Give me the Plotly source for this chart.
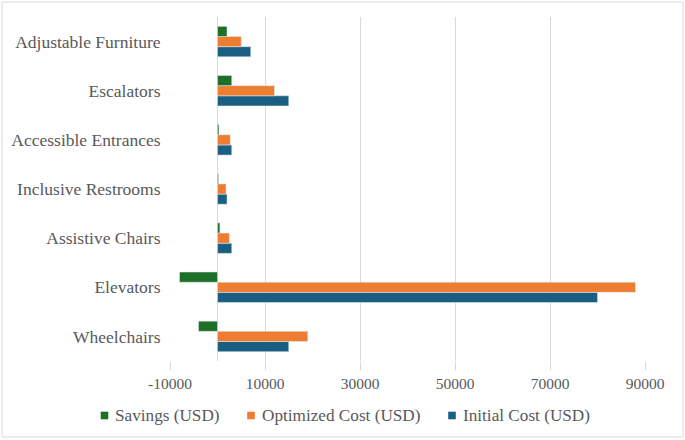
import plotly.graph_objects as go

categories = ["Wheelchairs", "Elevators", "Assistive Chairs", "Inclusive Restrooms",
              "Accessible Entrances", "Escalators", "Adjustable Furniture"]
initial_cost = [15000, 80000, 3000, 2000, 3000, 15000, 7000]
optimized_cost = [19000, 88000, 2500, 1800, 2700, 12000, 5000]
savings = [-4000, -8000, 500, 200, 300, 3000, 2000]
tick_vals = [-10000, 10000, 30000, 50000, 70000, 90000]

series_names = ["Initial Cost (USD)", "Optimized Cost (USD)", "Savings (USD)"]
series_colors = ["#1A5E82", "#ED7D31", "#1E7028"]
series_values = [initial_cost, optimized_cost, savings]

FONT = "Liberation Serif, Times New Roman, serif"
TXT = "#595959"
GRID = "#d9d9d9"

# plot area in pixels
L, R, T, B = 170, 40, 17, 79
W, H = 685, 440
PW, PH = W - L - R, H - T - B


def px_x(p):
    return (p - L) / PW


def px_y(p):
    return (H - B - p) / PH


fig = go.Figure()
for name, color, vals in zip(series_names, series_colors, series_values):
    fig.add_trace(go.Bar(y=categories, x=vals, orientation="h",
                         name=name, marker_color=color, showlegend=False))

# manual legend (Excel style: small square right next to text)
legend_items = [("Savings (USD)", "#1E7028", 104.5),
                ("Optimized Cost (USD)", "#ED7D31", 251),
                ("Initial Cost (USD)", "#1A5E82", 452)]
shapes = [dict(type="rect", xref="paper", yref="paper",
               x0=px_x(2), x1=px_x(683), y0=px_y(437), y1=px_y(2),
               line=dict(color=GRID, width=1), fillcolor="rgba(0,0,0,0)",
               layer="below")]
annotations = []
ly = 415.5
for text, color, cx in legend_items:
    shapes.append(dict(type="rect", xref="paper", yref="paper",
                       x0=px_x(cx - 3.8), x1=px_x(cx + 3.8),
                       y0=px_y(ly + 3.8), y1=px_y(ly - 3.8),
                       line=dict(width=0), fillcolor=color))
    annotations.append(dict(text=text, xref="paper", yref="paper",
                            x=px_x(cx + 8.5), y=px_y(ly), xanchor="left",
                            yanchor="middle", showarrow=False,
                            font=dict(family=FONT, size=17.2, color=TXT)))

fig.update_layout(
    width=W, height=H,
    margin=dict(l=L, r=R, t=T, b=B, autoexpand=False),
    barmode="group", bargap=0.38, bargroupgap=0,
    paper_bgcolor="white", plot_bgcolor="white",
    font=dict(family=FONT, size=15.5, color=TXT),
    showlegend=False,
    shapes=shapes,
    annotations=annotations,
)
fig.update_xaxes(range=[-10000, 90000], tickvals=tick_vals,
                 ticktext=[str(v) for v in tick_vals],
                 showgrid=True, gridcolor=GRID, gridwidth=1,
                 zeroline=True, zerolinecolor=GRID, zerolinewidth=1,
                 ticks="outside", ticklen=8, tickcolor=GRID,
                 showline=False, fixedrange=True, automargin=False)
fig.update_yaxes(categoryorder="array", categoryarray=categories,
                 showgrid=False, zeroline=False, showline=False,
                 tickfont=dict(size=17.5),
                 ticks="outside", ticklen=5, tickcolor="rgba(0,0,0,0)",
                 automargin=False, fixedrange=True)

fig.write_html("out.html", config={"displayModeBar": False},
               post_script="document.body.style.margin='0';")
